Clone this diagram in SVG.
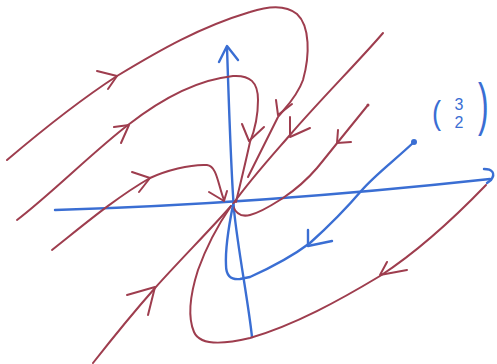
<svg xmlns="http://www.w3.org/2000/svg" width="497" height="364" viewBox="0 0 497 364">
<style>
.red{fill:none;stroke:#9e3d4e;stroke-width:2;stroke-linecap:round;stroke-linejoin:round}
.blue{fill:none;stroke:#3a6ed3;stroke-width:2.4;stroke-linecap:round;stroke-linejoin:round}
.lbl{fill:#3a6ed3;font-family:"Liberation Sans",Arial,sans-serif}
</style>
<rect width="497" height="364" fill="#ffffff"/>
<g id="axes">
<path class="blue" d="M227,47 C229,110 231,170 234,210 C238,250 248,300 252,337"/>
<path class="blue" d="M219,62 L227,46 L238,60"/>
<path class="blue" d="M55,210 Q260,204 490,179"/>
<path class="blue" d="M484,169 C492,169 496,173 491,180 L487,183"/>
</g>
<g id="connectors">
<path class="red" d="M7,160 C40,132 80,100 117,76 C160,50 200,27 250,12 C268,6 285,4 297,14 C310,26 310,55 303,80 C297,97 285,108 278,117 L248,177"/>
<path class="red" d="M97,71 L117,76 L108,89"/>
<path class="red" d="M276,100 L278,115 L292,104"/>
<path class="red" d="M17,220 C50,195 95,150 128,125 C160,100 195,80 233,76 C250,75 258,82 258,100 C258,118 254,132 250,142 C245,165 240,185 236,202"/>
<path class="red" d="M114,127 L129,125 L121,143"/>
<path class="red" d="M242,124 L249,141 L264,127"/>
<path class="red" d="M52,250 C80,228 115,198 150,178 C165,171 190,164 207,165 C217,166 218,185 224,200"/>
<path class="red" d="M132,172 L150,178 L139,192"/>
<path class="red" d="M209,192 L224,201 L227,191"/>
<path class="red" d="M93,363 C115,335 140,305 155,288 C180,260 210,230 231,206"/>
<path class="red" d="M127,295 L155,287 L148,315"/>
<path class="red" d="M486,185 C460,212 420,250 380,276 C340,300 295,325 250,338 C225,344 200,346 194,332 C188,318 190,295 198,270 C207,245 220,222 231,206"/>
<path class="red" d="M387,262 L380,275 L407,270"/>
<path class="red" d="M368,105 L338,142 C330,152 322,162 317,168 C305,182 295,190 283,198 C272,205 262,212 250,215 C242,217 236,214 233,206"/>
<path class="red" d="M338,130 L337,143 L351,142"/>
<path class="red" d="M383,33 C360,60 320,100 290,135 C270,158 250,180 233,204"/>
<path class="red" d="M290,117 L290,137 L310,128"/>
<circle cx="368" cy="105" r="1.5" fill="#9e3d4e"/>
</g>
<g id="trajectory">
<path class="blue" d="M414,142 C395,160 375,175 362,190 C345,210 330,225 310,243 C290,258 270,268 250,277 L240,279 C230,280 226,275 226,265 C225,245 230,220 233,205"/>
<path class="blue" d="M308,230 L308,246 L332,241"/>
<circle cx="414" cy="142" r="3" fill="#3a6ed3"/>
</g>
<g id="label">
<text class="lbl" transform="translate(432,124) scale(0.8,1)" font-size="34">(</text>
<text class="lbl" x="459" y="110" font-size="16" text-anchor="middle">3</text>
<text class="lbl" x="459" y="128" font-size="16" text-anchor="middle">2</text>
<text class="lbl" transform="translate(478,124) scale(0.55,1)" font-size="58">)</text>
</g>
</svg>
